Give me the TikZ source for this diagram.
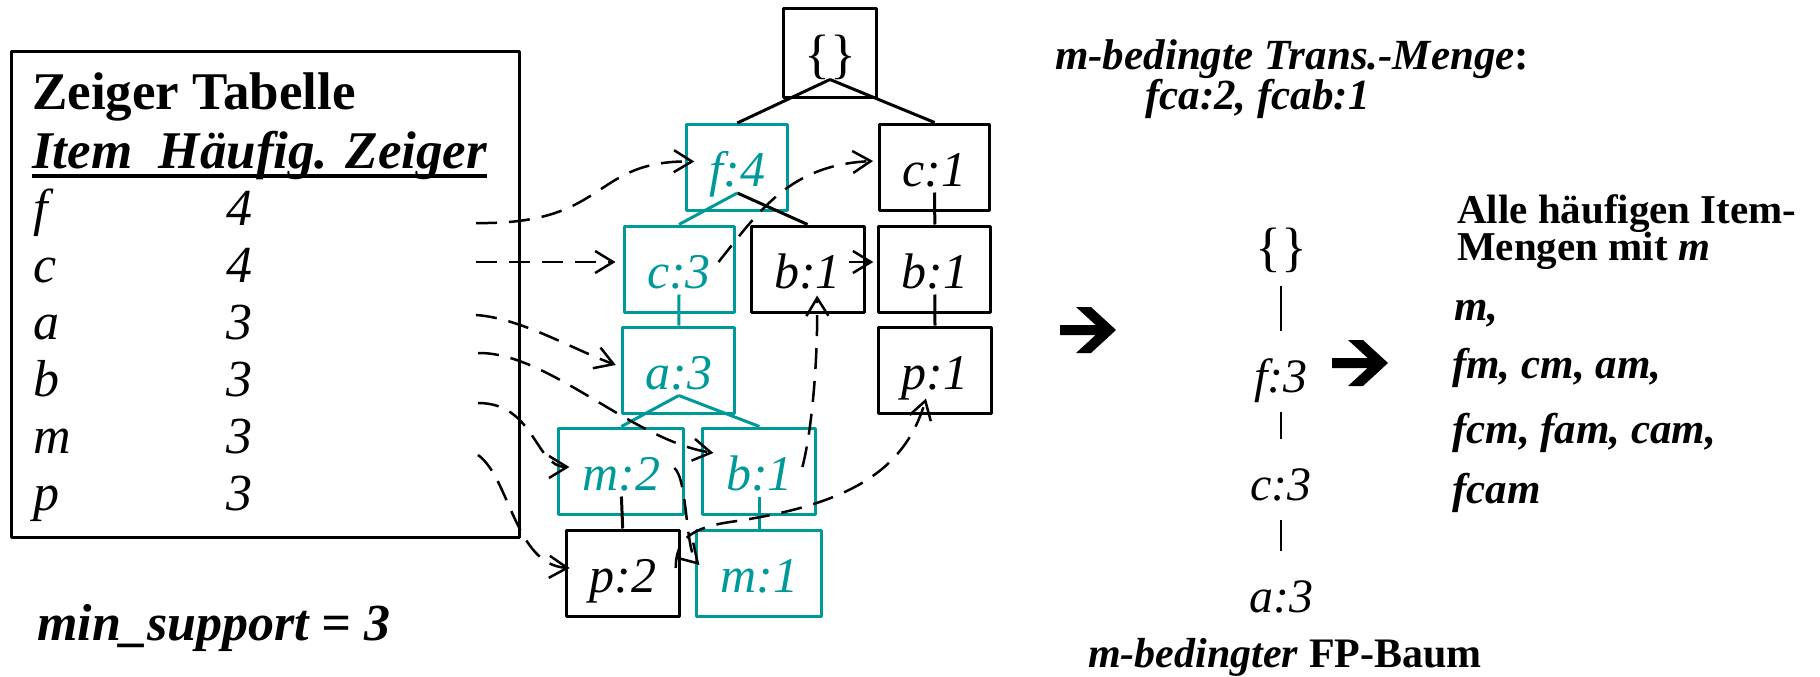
\documentclass[tikz,border=0pt]{standalone}
\usepackage{fontspec}
\setmainfont{Liberation Serif}
\usetikzlibrary{arrows.meta}
\definecolor{fpteal}{RGB}{0,153,153}
\newcommand{\fsz}[1]{\fontsize{#1}{#1}\selectfont}

\begin{document}
\begin{tikzpicture}[x=1pt, y=-1pt, line join=round, >={Straight Barb[length=18pt,width=22pt]},
    knoten/.style={draw, line width=3pt, minimum height=86pt, text height=38pt, text depth=0pt, inner sep=0pt, font=\fsz{50}\itshape},
    hot/.style={knoten, draw=fpteal, text=fpteal},
    kante/.style={line width=3pt},
    ptr/.style={->, line width=2.5pt, dash pattern=on 21pt off 12pt},
    zeile/.style={anchor=base west, inner sep=0pt, font=\fsz{52}\itshape},
    txt/.style={anchor=base west, inner sep=0pt, font=\fsz{43}\bfseries},
    rlabel/.style={anchor=base, inner sep=0pt, font=\fsz{48}\itshape},
    bigarrow/.pic={\fill (0,-5) -- (35.6,-5) -- (16,-23) -- (31,-23) -- (56,0) -- (31,23) -- (16,23) -- (35.6,5) -- (0,5) -- cycle;}]
    \useasboundingbox (0,0) rectangle (1820,677);

    % Zeiger-Tabelle
    \node[draw, line width=3pt, minimum width=508pt, minimum height=485pt, inner sep=0pt] (tabelle) at (265,294.5) {};
    \node[anchor=base west, inner sep=0pt, font=\fsz{53}\bfseries] (titel) at (32,110) {Zeiger Tabelle};
    \node[anchor=base west, inner sep=0pt, font=\fsz{53}\bfseries\itshape] (kopf) at (32,168) {Item~ Häufig. Zeiger};
    \draw[line width=4pt] ([yshift=-8pt]kopf.base west) -- ([yshift=-8pt]kopf.base east);
    \foreach \itm/\hf [count=\i] in {f/4,c/4,a/3,b/3,m/3,p/3} {
        \node[zeile] (item-\itm) at (33,{168+57*\i}) {\itm};
        \node[zeile] (hf-\itm) at (226,{168+57*\i}) {\hf};
    }
    \node[anchor=base west, inner sep=0pt, font=\fsz{52}\bfseries\itshape] (minsup) at (37,640) {min\_support = 3};

    % FP-Baum
    \node[knoten, minimum width=93pt, minimum height=88pt, font=\fsz{54}] (root) at (830,53) {\{\}};
    \node[hot, minimum width=101pt] (f4) at (737.3,167.5) {f:4};
    \node[knoten, minimum width=110pt] (c1) at (934.6,167) {c:1};
    \node[hot, minimum width=110pt] (c3) at (679,269) {c:3};
    \node[knoten, minimum width=113pt] (b1a) at (807.6,269) {b:1};
    \node[knoten, minimum width=112pt] (b1b) at (934.8,269) {b:1};
    \node[hot, minimum width=112pt] (a3) at (678.8,370) {a:3};
    \node[knoten, minimum width=113pt] (p1) at (935,370) {p:1};
    \node[hot, minimum width=125pt] (m2) at (621.4,471) {m:2};
    \node[hot, minimum width=113pt] (b1c) at (759.4,471) {b:1};
    \node[knoten, minimum width=113pt] (p2) at (622.7,573) {p:2};
    \node[hot, minimum width=125pt] (m1) at (759.4,573) {m:1};

    \foreach \a/\b in {root/f4, root/c1, f4/b1a, c1/b1b, b1b/p1, m2/p2}
        \draw[kante] ([yshift=19pt]\a.south) -- (\b.north);
    \foreach \a/\b in {f4/c3, c3/a3, a3/m2, a3/b1c, b1c/m1}
        \draw[kante, fpteal] ([yshift=19pt]\a.south) -- (\b.north);

    % Zeiger
    \coordinate (pf) at (476,223);
    \coordinate (pc) at (476,262);
    \coordinate (pa) at (476,315);
    \coordinate (pb) at (478,353);
    \coordinate (pm) at (478,403);
    \coordinate (pp) at (478,455);
    \draw[ptr] (pf) .. controls (610,225) and (590,160) .. ([xshift=9pt,yshift=6pt]f4.west);
    \draw[ptr, shorten >=7pt] (pc) -- (pc -| c3.west);
    \draw[ptr] (pa) .. controls (520,318) and (570,348) .. ([xshift=-5.5pt,yshift=5pt]a3.west);
    \draw[ptr] (pb) .. controls (548,352) and (632,440) .. ([xshift=12pt,yshift=18pt]b1c.west);
    \draw[ptr] (pm) .. controls (535,403) and (535,467) .. ([xshift=12pt,yshift=4pt]m2.west);
    \draw[ptr] (pp) .. controls (510,478) and (515,565) .. ([xshift=5pt,yshift=5pt]p2.west);
    \draw[ptr] ([xshift=-17pt,yshift=7pt]c3.east) .. controls (760,210) and (790,165) .. ([xshift=-5pt,yshift=6pt]c1.west);
    \draw[ptr] ([xshift=-17pt,yshift=7pt]b1a.east) -- ([xshift=-4pt,yshift=7pt]b1b.west);
    \draw[ptr] ([xshift=-11pt,yshift=3pt]m2.east) .. controls (688,480) and (685,550) .. ([xshift=4pt,yshift=8pt]m1.west);
    \draw[ptr] ([xshift=-15pt,yshift=4pt]b1c.east) .. controls (812,430) and (818,360) .. ([xshift=9.5pt,yshift=18pt]b1a.south);
    \draw[ptr] ([xshift=-5pt,yshift=5pt]p2.east) .. controls (676,540) and (690,528) .. (730,522)
        .. controls (850,505) and (905,470) .. ([xshift=-9pt,yshift=16pt]p1.south);

    % bedingte Menge und bedingter Baum
    \node[txt] (trans) at (1055,70) {\textit{m-bedingte Trans.-Menge}:};
    \node[txt, font=\fsz{43}\bfseries\itshape] (muster) at (1145,110) {fca:2, fcab:1};
    \pic at (1060,330) {bigarrow};
    \node[anchor=base, inner sep=0pt, font=\fsz{54}] (rroot) at (1281,265.5) {\{\}};
    \node[rlabel] (rf) at (1281,392) {f:3};
    \node[rlabel] (rc) at (1281,500) {c:3};
    \node[rlabel] (ra) at (1281,612) {a:3};
    \foreach \a/\b in {rroot/rf, rf/rc, rc/ra}
        \draw[line width=2pt] ([yshift=-20pt]\a.base) -- ([yshift=61pt]\b.base);
    \node[txt, font=\fsz{42}\bfseries] (baum) at (1088,667) {\textit{m-bedingter} FP-Baum};
    \pic at (1332,363) {bigarrow};

    % Ergebnis
    \node[txt, font=\fsz{41}\bfseries] (alle1) at (1457,223) {Alle häufigen Item-};
    \node[txt, font=\fsz{41}\bfseries] (alle2) at (1457,260) {Mengen mit \textit{m}};
    \node[txt, font=\fsz{43}\bfseries\itshape] (e1) at (1454,320) {m,};
    \node[txt, font=\fsz{43}\bfseries\itshape] (e2) at (1452,378) {fm, cm, am,};
    \node[txt, font=\fsz{43}\bfseries\itshape] (e3) at (1452,443) {fcm, fam, cam,};
    \node[txt, font=\fsz{43}\bfseries\itshape] (e4) at (1452,503) {fcam};
\end{tikzpicture}
\end{document}
